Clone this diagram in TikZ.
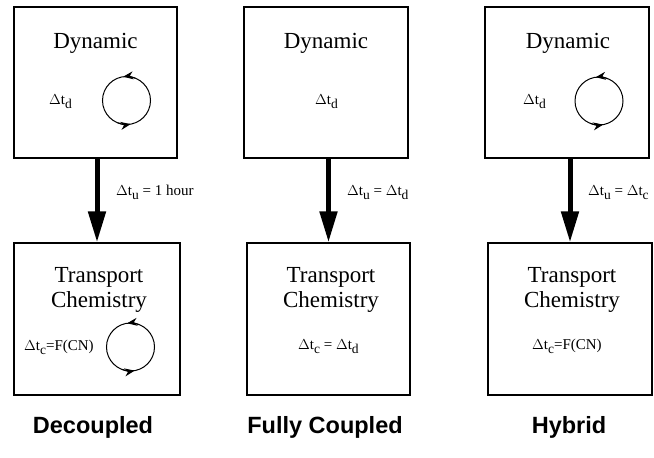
\documentclass[tikz,border=0pt]{standalone}
\usepackage{fontspec}
\setmainfont{Liberation Serif}
\newfontfamily\capfont{Liberation Sans}
\usetikzlibrary{arrows.meta,calc}
\newcommand\lowsub[1]{\raisebox{-4pt}{\fontsize{13.5}{13.5}\selectfont #1}}
\begin{document}
\begin{tikzpicture}[x=1pt,y=-1pt,
  box/.style={draw, line width=1.3pt, inner sep=0pt},
  boxtitle/.style={font=\fontsize{23}{25}\selectfont, anchor=base, align=center, inner sep=0pt},
  smalltext/.style={font=\fontsize{15}{17}\selectfont, anchor=base west, inner sep=0pt},
  captext/.style={font=\capfont\bfseries\fontsize{23.5}{26}\selectfont, anchor=base, inner sep=0pt},
  flow/.style={line width=5pt, -{Triangle[length=31pt,width=17pt]}},
  cycleline/.style={line width=1pt},
  cycletip/.style={line width=1pt, -{Stealth[length=10pt,width=8pt]}}]
\useasboundingbox (0,0) rectangle (654,458);

% boxes
\node[box, minimum width=163pt, minimum height=151pt] (d1) at (95.5,82.5) {};
\node[box, minimum width=164pt, minimum height=151pt] (d2) at (326,82.5) {};
\node[box, minimum width=164pt, minimum height=151pt] (d3) at (567,82.5) {};
\node[box, minimum width=166pt, minimum height=152pt] (t1) at (97,319) {};
\node[box, minimum width=163pt, minimum height=152pt] (t2) at (328.5,319) {};
\node[box, minimum width=164pt, minimum height=152pt] (t3) at (570,319) {};

% titles
\node[boxtitle] (d1t) at (95.5,48) {Dynamic};
\node[boxtitle] (d2t) at (326,48) {Dynamic};
\node[boxtitle] (d3t) at (568,48) {Dynamic};
\node[boxtitle] (t1t) at (99,307) {Transport\\Chemistry};
\node[boxtitle] (t2t) at (331,307) {Transport\\Chemistry};
\node[boxtitle] (t3t) at (572,307) {Transport\\Chemistry};

% small labels
\node[smalltext] (d1s) at (49,104) {$\Delta$t\lowsub{d}};
\node[smalltext] (d2s) at (315,104) {$\Delta$t\lowsub{d}};
\node[smalltext] (d3s) at (523,104) {$\Delta$t\lowsub{d}};
\node[smalltext] (t1s) at (24,350) {$\Delta$t\lowsub{c}=F(CN)};
\node[smalltext] (t2s) at (298,349) {$\Delta$t\lowsub{c} = $\Delta$t\lowsub{d}};
\node[smalltext] (t3s) at (532,349) {$\Delta$t\lowsub{c}=F(CN)};

% arrows between boxes
\draw[flow] (d1.south -| t1.north) -- (t1.north);
\draw[flow] (d2.south -| t2.north) -- (t2.north);
\draw[flow] (d3.south -| t3.north) -- (t3.north);
\node[smalltext] (a1) at (116,195) {$\Delta$t\lowsub{u} = 1 hour};
\node[smalltext] (a2) at (347,195) {$\Delta$t\lowsub{u} = $\Delta$t\lowsub{d}};
\node[smalltext] (a3) at (588,195) {$\Delta$t\lowsub{u} = $\Delta$t\lowsub{c}};

% cycles
\foreach \cx/\cy in {126.5/100.5, 599/101, 130.5/347} {
  \draw[cycleline] (\cx,\cy) circle[radius=24];
  \draw[cycletip] ($(\cx,\cy)+(292:24)$) arc[start angle=292, end angle=262, radius=24];
  \draw[cycletip] ($(\cx,\cy)+(112:24)$) arc[start angle=112, end angle=80, radius=24];
}

% captions
\node[captext] (c1) at (93,433) {Decoupled};
\node[captext] (c2) at (325,433) {Fully Coupled};
\node[captext] (c3) at (569,433) {Hybrid};
\end{tikzpicture}
\end{document}
